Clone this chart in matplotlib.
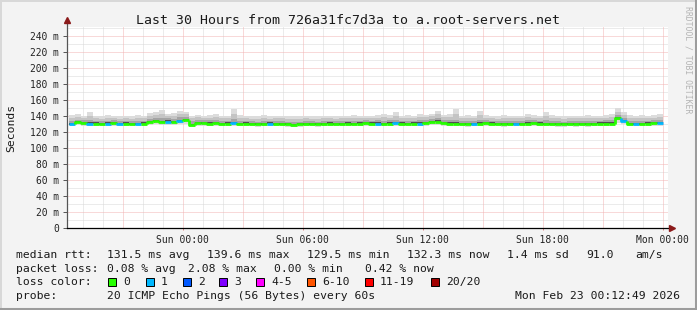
import numpy as np
import matplotlib
matplotlib.use("Agg")
import matplotlib.pyplot as plt
from matplotlib.collections import LineCollection
from matplotlib.lines import Line2D
from matplotlib.patches import Rectangle

W, H = 697, 310
MONO = "DejaVu Sans Mono"

title = "Last 30 Hours from 726a31fc7d3a to a.root-servers.net"
ylabel = "Seconds"
watermark = "RRDTOOL / TOBI OETIKER"

# time axis: hours relative to Mon 00:00
x_start = -29.786
x_end = 0.264
bin_hours = 0.3
first_bin = -29.7

xtick_pos = [-24, -18, -12, -6, 0]
xtick_labels = ["Sun 00:00", "Sun 06:00", "Sun 12:00", "Sun 18:00", "Mon 00:00"]
ytick_vals = [0, 20, 40, 60, 80, 100, 120, 140, 160, 180, 200, 220, 240]
ytick_labels = ["0"] + [f"{v} m" for v in ytick_vals[1:]]

median = [130.5,132.5,132.0,131.0,131.0,130.5,131.0,131.5,130.5,131.0,
 130.5,130.5,131.0,132.5,134.5,133.0,133.5,132.5,134.5,135.5,
 129.5,131.5,131.5,131.0,131.5,130.5,131.0,131.5,130.5,131.0,
 130.5,130.0,130.5,131.0,130.5,130.5,130.0,129.5,130.0,130.5,
 130.5,130.0,130.5,131.0,130.5,130.5,131.0,130.5,131.0,131.5,
 131.0,131.0,130.5,131.0,131.5,131.0,130.5,131.0,131.0,131.5,
 133.0,133.5,131.5,131.0,131.0,130.5,130.0,130.5,131.0,131.5,
 131.0,130.5,130.0,130.5,130.5,130.5,131.0,131.5,131.0,130.5,
 130.5,130.0,130.0,130.5,130.0,130.5,130.0,130.5,131.0,131.0,
 131.0,138.0,134.5,130.5,130.5,130.5,131.0,131.5,132.0]

loss = [1,0,0,1,0,0,1,0,1,0,
 0,1,0,0,0,0,1,0,1,0,
 0,0,0,0,0,0,0,1,0,0,
 0,0,0,1,0,0,0,0,0,0,
 0,0,0,0,0,0,0,0,0,0,
 0,1,0,0,1,0,0,0,1,0,
 0,0,0,0,0,0,0,1,0,0,
 0,0,0,0,1,0,0,0,0,0,
 0,0,0,0,0,0,0,0,0,0,
 0,0,1,0,1,0,0,0,1]

smoke_min = [128.0,129.0,128.5,127.5,128.0,128.0,127.5,128.0,127.5,128.0,
 127.5,127.5,128.0,129.0,130.0,129.5,129.5,129.0,130.0,130.5,
 126.5,128.0,128.0,127.5,128.0,127.5,128.0,128.0,127.5,128.0,
 127.5,127.0,127.5,128.0,127.5,127.5,127.0,126.5,127.0,127.5,
 127.5,127.0,127.5,128.0,127.5,127.5,128.0,127.5,128.0,128.0,
 128.0,128.0,127.5,128.0,128.0,128.0,127.5,128.0,128.0,128.0,
 129.0,129.5,128.0,128.0,128.0,127.5,127.0,127.5,128.0,128.0,
 128.0,127.5,127.0,127.5,127.5,127.5,128.0,128.0,128.0,127.5,
 127.5,127.0,127.0,127.5,127.0,127.5,127.0,127.5,128.0,128.0,
 128.0,132.0,130.0,127.5,127.5,127.5,128.0,128.0,128.5]

smoke_lo = [129.5,131.5,131.0,130.0,130.0,129.5,130.0,130.5,129.5,130.0,
 129.5,129.5,130.0,131.5,133.0,132.0,132.0,131.5,133.0,134.0,
 128.5,130.5,130.5,130.0,130.5,129.5,130.0,130.5,129.5,130.0,
 129.5,129.0,129.5,130.0,129.5,129.5,129.0,128.5,129.0,129.5,
 129.5,129.0,129.5,130.0,129.5,129.5,130.0,129.5,130.0,130.5,
 130.0,130.0,129.5,130.0,130.5,130.0,129.5,130.0,130.0,130.5,
 132.0,132.5,130.5,130.0,130.0,129.5,129.0,129.5,130.0,130.5,
 130.0,129.5,129.0,129.5,129.5,129.5,130.0,130.5,130.0,129.5,
 129.5,129.0,129.0,129.5,129.0,129.5,129.0,129.5,130.0,130.0,
 130.0,136.0,133.0,129.5,129.5,129.5,130.0,130.5,131.0]

smoke_hi = [134.0,136.0,135.0,135.5,134.5,134.0,134.5,135.0,134.0,134.5,
 134.0,134.5,134.5,136.5,138.5,138.0,137.5,137.0,139.0,139.5,
 134.0,135.5,135.0,135.0,135.5,134.5,134.5,137.0,134.5,134.5,
 134.0,133.5,134.5,134.5,134.0,134.0,133.5,133.0,133.5,134.0,
 134.0,133.5,134.0,134.5,134.0,134.0,134.5,134.5,134.5,135.0,
 134.5,135.0,134.5,135.0,136.0,134.5,134.5,134.5,135.5,135.5,
 137.0,138.0,135.5,135.0,136.0,134.0,134.0,134.0,135.5,135.0,
 134.5,134.0,134.0,134.0,134.0,134.0,135.0,135.0,134.5,135.0,
 134.5,134.0,133.5,134.0,134.0,134.0,134.0,134.0,134.5,135.0,
 135.0,142.0,138.0,134.5,134.0,134.5,134.5,135.0,136.0]

smoke_max = [142,143,141,146,141,140,142,141,140,141,
 140,142,141,144,145,148,143,144,147,146,
 141,142,140,142,143,141,141,149,142,141,
 140,141,142,140,141,141,140,140,141,141,
 140,140,141,141,140,141,141,142,141,141,
 141,142,143,142,145,141,142,141,143,142,
 143,147,142,143,149,141,142,141,147,142,
 141,140,142,141,141,141,143,142,141,146,
 142,141,140,141,141,141,142,141,141,142,
 143,150,146,142,141,142,141,142,143]

loss_labels = ["0", "1", "2", "3", "4-5", "6-10", "11-19", "20/20"]
loss_colors = ["#26ff00", "#00b8ff", "#0059ff", "#7e00ff", "#ff00ff", "#ff5500", "#ff0000", "#a10000"]

stats_row1 = [(16, "median rtt:"), (107, "131.5 ms avg"), (207, "139.6 ms max"),
              (307, "129.5 ms min"), (407, "132.3 ms now"), (507, "1.4 ms sd"),
              (586, "91.0"), (635, "am/s")]
stats_row2 = [(16, "packet loss:"), (107, "0.08 % avg"), (188, "2.08 % max"),
              (274, "0.00 % min"), (365, "0.42 % now")]
probe_text = "20 ICMP Echo Pings (56 Bytes) every 60s"
date_text = "Mon Feb 23 00:12:49 2026"

# ---------------------------------------------------------------
fig = plt.figure(figsize=(W / 100, H / 100), dpi=100)
fig.patch.set_facecolor("#f3f3f3")

ax_left, ax_right, ax_top, ax_bot = 67, 668, 27, 228.3
ax = fig.add_axes([ax_left / W, 1 - ax_bot / H, (ax_right - ax_left) / W, (ax_bot - ax_top) / H])
ax.set_facecolor("white")
ymax = (ax_bot - ax_top) / 0.8
ax.set_xlim(x_start, x_end)
ax.set_ylim(0, ymax)
for s in ax.spines.values():
    s.set_visible(False)

dot = (0, (1, 1))
RED_GRID = "#f2b4b4"
GREY_GRID = "#d8d8d8"
# grid
for v in np.arange(10, ymax, 10):
    c = RED_GRID if v % 20 == 0 else GREY_GRID
    ax.axhline(v, color=c, lw=0.72, ls=dot, zorder=0.6 if v % 20 == 0 else 0.5)
for h in range(int(np.ceil(x_start)), 1):
    c = RED_GRID if h % 3 == 0 else GREY_GRID
    ax.axvline(h, color=c, lw=0.72, ls=dot, zorder=0.6 if h % 3 == 0 else 0.5)

n = len(median)
t0 = first_bin + bin_hours * np.arange(n)
edges = np.append(t0, t0[-1] + bin_hours)

def band(lo, hi, color, z):
    lo = np.append(lo, lo[-1])
    hi = np.append(hi, hi[-1])
    ax.fill_between(edges, lo, hi, step="post", color=color, lw=0, zorder=z)

mn = np.array(smoke_min); mx = np.array(smoke_max)
lo = np.array(smoke_lo); hi = np.array(smoke_hi); md = np.array(median)
band(mn, mx, "#dcdcdc", 1)
band(lo, (hi + mx) / 2, "#c4c4c4", 1.1)
band(lo, hi, "#a4a4a4", 1.2)
band(md - 1.2, md + 1.5, "#505050", 1.3)

segs, cols = [], []
for i in range(n):
    prev = md[i - 1] if i > 0 else md[i]
    segs.append([(edges[i], prev), (edges[i], md[i]), (edges[i + 1], md[i])])
    cols.append(loss_colors[loss[i]])
ax.add_collection(LineCollection(segs, colors=cols, linewidths=2.0, zorder=2, capstyle="butt"))

# axes lines and arrows
ax.plot([0, 0], [0, 1.035], transform=ax.transAxes, color="#555555", lw=0.9, clip_on=False, zorder=3)
ax.plot([0, 1.005], [0, 0], transform=ax.transAxes, color="#000000", lw=0.9, clip_on=False, zorder=3)
ax.plot([0], [1.035], transform=ax.transAxes, marker="^", color="#8b1a1a", ms=4.2, clip_on=False, zorder=4)
ax.plot([1.007], [0], transform=ax.transAxes, marker=">", color="#8b1a1a", ms=4.2, clip_on=False, zorder=4)

ax.set_yticks(ytick_vals)
ax.set_yticklabels(ytick_labels, family=MONO, fontsize=6.9, color="#222222")
ax.set_xticks(xtick_pos)
ax.set_xticklabels(xtick_labels, family=MONO, fontsize=7.0, color="#222222")
ax.tick_params(axis="y", direction="out", length=3, width=0.7, color="#555555", pad=2.6)
ax.tick_params(axis="x", direction="out", length=1.5, width=0.7, color="#e08080", pad=3.4)

# text
def ftext(x, y, s, **kw):
    kw.setdefault("family", MONO)
    kw.setdefault("color", "#1a1a1a")
    fig.text(x / W, 1 - y / H, s, **kw)

ftext(347.5, 24, title, fontsize=9.55, ha="center", va="baseline")
ftext(11, 128, ylabel, fontsize=8.2, ha="center", va="center", rotation=90)
ftext(688, 60, watermark, fontsize=5.9, ha="center", va="center", rotation=270, color="#b4b4b4")

fs = 8.2
for x, s in stats_row1:
    ftext(x, 258, s, fontsize=fs, va="baseline")
for x, s in stats_row2:
    ftext(x, 271.5, s, fontsize=fs, va="baseline")
ftext(16, 285, "loss color:", fontsize=fs, va="baseline")
sq_x = [108, 146, 183, 219, 256, 307, 365, 431]
for x, lab, c in zip(sq_x, loss_labels, loss_colors):
    fig.add_artist(Rectangle((x / W, 1 - 286 / H), 8 / W, 8 / H, transform=fig.transFigure,
                             facecolor=c, edgecolor="black", lw=0.7))
    ftext(x + 15, 285, lab, fontsize=fs, va="baseline")
ftext(16, 299, "probe:", fontsize=fs, va="baseline")
ftext(107, 299, probe_text, fontsize=fs, va="baseline")
ftext(680, 299, date_text, fontsize=fs, va="baseline", ha="right")

# image frame
fig.add_artist(Line2D([0, 1], [1 - 0.5 / H, 1 - 0.5 / H], transform=fig.transFigure, color="#d8d8d8", lw=1.4))
fig.add_artist(Line2D([0.5 / W, 0.5 / W], [0, 1], transform=fig.transFigure, color="#d8d8d8", lw=1.4))
fig.add_artist(Line2D([1 - 1.5 / W, 1 - 1.5 / W], [0, 1], transform=fig.transFigure, color="#9c9c9c", lw=2.2))
fig.add_artist(Line2D([0, 1], [1.5 / H, 1.5 / H], transform=fig.transFigure, color="#9c9c9c", lw=2.2))

fig.savefig("out.png", dpi=100, facecolor=fig.get_facecolor())
